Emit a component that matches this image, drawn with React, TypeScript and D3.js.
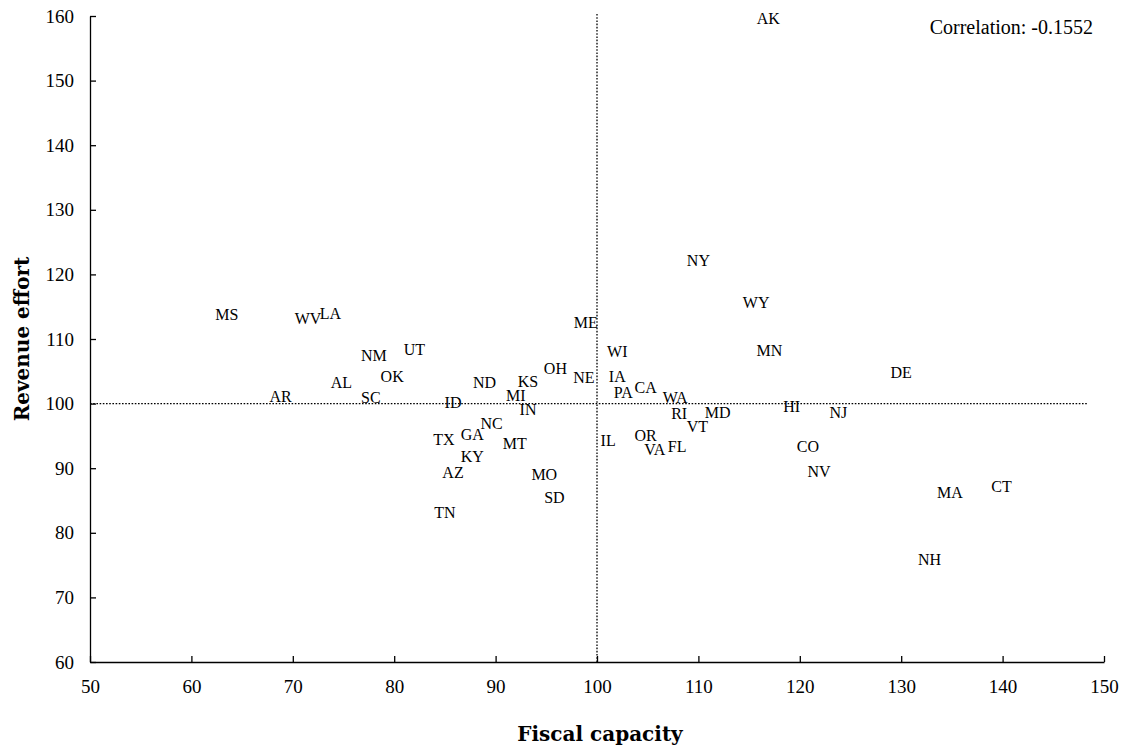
import { useEffect, useRef } from 'react';
import * as d3 from 'd3';

// state codes with fiscal capacity (x) and revenue effort (y)
const states = ['MS','WV','LA','NM','UT','AL','OK','AR','SC','ID','ND','KS','MI','OH','NE','ME','IN','NC','GA','TX','MT','KY','AZ','MO','SD','TN',
  'IL','WI','IA','PA','CA','WA','RI','VT','MD','OR','VA','FL','NY','WY','MN','HI','NJ','CO','NV','DE','MA','CT','NH','AK'];
const capacity = [63.5,71.5,73.7,78.0,82.0,74.8,79.8,68.8,77.7,85.8,88.9,93.2,92.0,95.9,98.7,98.9,93.2,89.6,87.7,84.9,91.9,87.7,85.8,94.8,95.8,85.0,
  101.1,102.0,102.0,102.6,104.8,107.7,108.1,109.9,111.9,104.8,105.7,107.9,110.0,115.7,117.0,119.2,123.8,120.8,121.9,130.0,134.8,139.9,132.8,116.9];
const effort = [113.8,113.2,114.0,107.4,108.4,103.3,104.2,101.1,101.0,100.2,103.3,103.5,101.2,105.4,104.0,112.6,99.1,97.0,95.2,94.4,93.9,91.9,89.4,89.1,85.5,83.1,
  94.3,108.1,104.2,101.8,102.5,100.9,98.5,96.5,98.6,95.1,92.9,93.3,122.1,115.6,108.3,99.5,98.6,93.4,89.5,104.9,86.3,87.2,75.9,159.6];

const xTicks = [50,60,70,80,90,100,110,120,130,140,150];
const yTicks = [60,70,80,90,100,110,120,130,140,150,160];
const correlation = '-0.1552';

const width = 1127;
const height = 748;
const marginLeft = 90;
const marginRight = 23;
const marginTop = 16;
const marginBottom = 86;
const serif = '"Liberation Serif", "Times New Roman", Times, serif';

export default function App() {
  const x = d3.scaleLinear().domain([50,150]).range([marginLeft, width - marginRight]);
  const y = d3.scaleLinear().domain([60,160]).range([height - marginBottom, marginTop]);

  const gx = useRef<SVGGElement>(null);
  const gy = useRef<SVGGElement>(null);

  useEffect(() => {
    const ax = d3.select(gx.current!)
      .call(d3.axisBottom(x).tickValues(xTicks).tickSize(-6).tickSizeOuter(0).tickPadding(18).tickFormat(d3.format('d')));
    ax.attr('font-family', serif).attr('font-size', 19);
    ax.selectAll('text').attr('fill', '#000');
    ax.selectAll('line,path').attr('stroke', '#000').attr('stroke-width', 1.3);
    const ay = d3.select(gy.current!)
      .call(d3.axisLeft(y).tickValues(yTicks).tickSize(-6).tickSizeOuter(0).tickPadding(16).tickFormat(d3.format('d')));
    ay.attr('font-family', serif).attr('font-size', 19);
    ay.selectAll('text').attr('fill', '#000');
    ay.selectAll('line,path').attr('stroke', '#000').attr('stroke-width', 1.3);
  }, []);

  const data = states.map((s, i) => ({ name: s, cap: capacity[i], eff: effort[i] }));

  return (
    <div style={{ position: 'absolute', left: 0, top: 0 }}>
      <svg width={width} height={height} style={{ display: 'block', background: '#fff' }}>
        {/* reference lines at 100 */}
        <line x1={x(100)} x2={x(100)} y1={y(60)} y2={y(160.4)} stroke="#000" strokeWidth={1.3} strokeDasharray="1.6,1.6" />
        <line x1={x(50)} x2={x(148.4)} y1={y(100)} y2={y(100)} stroke="#000" strokeWidth={1.3} strokeDasharray="1.6,1.6" />
        <g ref={gx} transform={`translate(0,${height - marginBottom})`} />
        <g ref={gy} transform={`translate(${marginLeft},0)`} />
        {data.map(d => (
          <text key={d.name} x={x(d.cap)} y={y(d.eff)} dy="0.35em" textAnchor="middle"
            fontFamily={serif} fontSize={16} fill="#000">{d.name}</text>
        ))}
        <text x={1093} y={27} dy="0.35em" textAnchor="end" fontFamily={serif} fontSize={20} fill="#000">
          Correlation: {correlation}
        </text>
        <text x={(marginLeft + width - marginRight) / 2 + 3} y={741} textAnchor="middle"
          fontFamily='"DejaVu Serif", serif' fontWeight="bold" fontSize={20} fill="#000">Fiscal capacity</text>
        <text transform={`translate(29,${(marginTop + height - marginBottom) / 2}) rotate(-90)`} textAnchor="middle"
          fontFamily='"DejaVu Serif", serif' fontWeight="bold" fontSize={20} fill="#000">Revenue effort</text>
      </svg>
    </div>
  );
}
